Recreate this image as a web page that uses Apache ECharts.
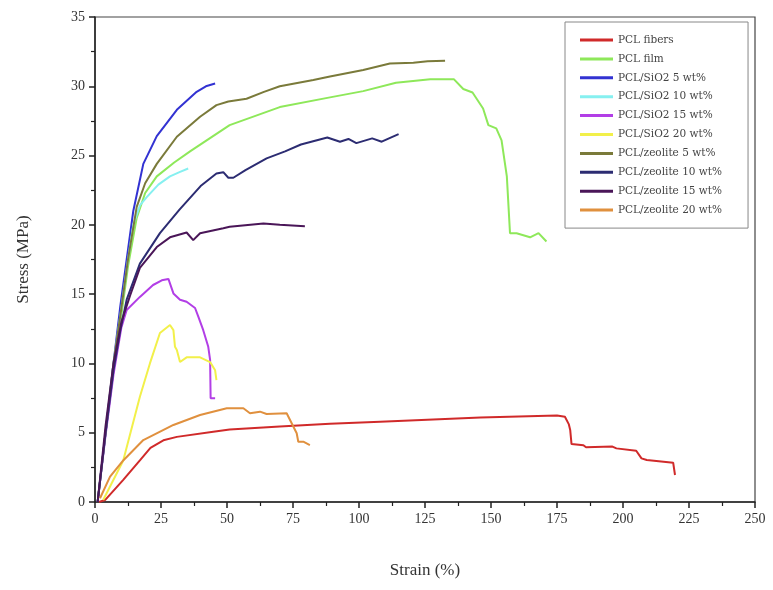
<!DOCTYPE html>
<html>
<head>
<meta charset="utf-8">
<script src="https://cdn.jsdelivr.net/npm/echarts@6/dist/echarts.min.js"></script>
<style>html,body{margin:0;padding:0;background:#fff}#c{width:773px;height:590px}</style>
</head>
<body>
<div id="c"></div>
<script>
const seriesNames = ['PCL fibers','PCL film','PCL/SiO2 5 wt%','PCL/SiO2 10 wt%','PCL/SiO2 15 wt%','PCL/SiO2 20 wt%','PCL/zeolite 5 wt%','PCL/zeolite 10 wt%','PCL/zeolite 15 wt%','PCL/zeolite 20 wt%'];
const xTicks = [0,25,50,75,100,125,150,175,200,225,250];
const yTicks = [0,5,10,15,20,25,30,35];

const pclFibers = [[1.5,0],[3.8,0.14],[10.7,1.6],[17,3.0],[21,3.9],[25.9,4.45],[31,4.7],[44.8,5.07],[51,5.24],[70,5.45],[89,5.65],[108,5.8],[146,6.1],[175,6.25],[178,6.15],[179.5,5.6],[180,5.2],[180.5,4.18],[185,4.1],[186,3.95],[196,4.0],[197.5,3.87],[205,3.7],[207,3.15],[209,3.03],[219,2.84],[219.7,1.95]];
const pclFilm = [[1,0],[4,5],[7,9.5],[10,13.5],[12.5,17],[15.8,20.5],[19,22.3],[23.4,23.5],[30,24.5],[36,25.3],[51,27.2],[70,28.5],[89,29.2],[101.6,29.65],[114,30.25],[127,30.5],[136,30.5],[139.5,29.8],[143,29.55],[147,28.4],[149,27.2],[152,26.96],[154,26.1],[156,23.5],[157.2,19.4],[159.7,19.4],[164.8,19.1],[168,19.4],[171,18.8]];
const sio2_5 = [[1,0],[4,5],[7,10],[9.5,14],[12,17.5],[14.5,21],[18.3,24.4],[23.4,26.4],[31,28.3],[38.5,29.6],[42,30.0],[45.5,30.2]];
const sio2_10 = [[1,0],[4,5],[7,10],[10,14],[12.5,17.5],[14.5,20],[17,21.4],[19.6,22.0],[24,22.9],[28.4,23.5],[32,23.8],[35.3,24.07]];
const sio2_15 = [[1,0],[4,4.8],[7,9.2],[10,12.6],[12,13.85],[17,14.8],[22,15.66],[25.3,16.0],[27.8,16.1],[29.7,15.05],[32.2,14.6],[34.7,14.45],[37.9,14.0],[39.1,13.4],[41,12.4],[42.9,11.2],[43.6,10.25],[43.8,7.48],[45.5,7.48]];
const sio2_20 = [[3.1,0.14],[10.7,3.0],[17,7.6],[20.8,10.0],[24.6,12.2],[28.4,12.77],[29.7,12.4],[30.3,11.2],[31,10.97],[32.2,10.1],[34.7,10.44],[39.8,10.44],[43.6,10.1],[45.5,9.5],[46,8.8]];
const zeo_5 = [[1,0],[4,5],[7,10],[10,14],[12.5,17.5],[15.8,21.3],[19,23],[23.4,24.4],[31,26.36],[39.8,27.8],[46,28.64],[50.5,28.9],[57.4,29.1],[64,29.6],[70,30.0],[82.7,30.45],[89,30.7],[101.6,31.17],[111.7,31.65],[120.6,31.7],[126,31.8],[132.6,31.84]];
const zeo_10 = [[1,0],[4,5],[7,9.5],[9.5,12.3],[12,14.6],[17,17.2],[24.6,19.4],[32,21.1],[40,22.8],[46,23.7],[48.6,23.8],[50.5,23.4],[52.4,23.4],[57,23.95],[65,24.8],[72,25.3],[78,25.8],[88,26.3],[92.8,26.0],[96,26.2],[99,25.9],[105,26.24],[108.6,26.0],[112,26.3],[115,26.55]];
const zeo_15 = [[1,0],[4,5.5],[7,10],[10,13],[13.3,14.9],[17,16.9],[23.4,18.4],[28.4,19.1],[34.7,19.45],[37.2,18.9],[39.8,19.4],[48.6,19.75],[51,19.86],[63.8,20.1],[70,20.0],[79.5,19.9]];
const zeo_20 = [[1.9,0.27],[5.7,1.83],[10.7,3.0],[18.3,4.47],[29.7,5.56],[39.8,6.28],[49.9,6.76],[56.2,6.76],[58.7,6.4],[62.5,6.52],[65,6.35],[72.6,6.4],[74.5,5.68],[76.4,4.96],[77,4.35],[78.9,4.35],[81.4,4.11]];

const allData = [pclFibers,pclFilm,sio2_5,sio2_10,sio2_15,sio2_20,zeo_5,zeo_10,zeo_15,zeo_20];
const colors = ['#d02a2a','#8ee85a','#3232d2','#86f0f0','#b23ee6','#f2f04a','#7a7a3a','#2c2c72','#4a1658','#e0903e'];

const font = '"Liberation Serif", "DejaVu Serif", serif';
const chart = echarts.init(document.getElementById('c'));
chart.setOption({
  animation: false,
  backgroundColor: '#fff',
  grid: {left: 95, top: 17, right: 18, bottom: 88, show: true, borderColor: '#444', borderWidth: 1.2},
  legend: {
    orient: 'vertical', left: 565, top: 22,
    padding: [11, 26, 11, 15],
    itemGap: 4.9, itemWidth: 33, itemHeight: 3,
    icon: 'rect',
    borderColor: '#888', borderWidth: 1,
    textStyle: {fontFamily: '"DejaVu Serif", serif', fontSize: 10.5, color: '#444', lineHeight: 14},
    data: seriesNames
  },
  xAxis: {
    type: 'value', min: 0, max: 250, interval: 25,
    name: 'Strain (%)', nameLocation: 'middle', nameGap: 60,
    nameTextStyle: {fontFamily: font, fontSize: 17, color: '#333'},
    axisLine: {show: true, lineStyle: {color: '#222', width: 1.5}},
    axisTick: {show: true, inside: false, length: 6, lineStyle: {color: '#222', width: 1.5}},
    minorTick: {show: true, splitNumber: 2, length: 4, lineStyle: {color: '#222', width: 1.2}},
    axisLabel: {fontFamily: font, fontSize: 14, color: '#333', margin: 10},
    splitLine: {show: false}
  },
  yAxis: {
    type: 'value', min: 0, max: 35, interval: 5,
    name: 'Stress (MPa)', nameLocation: 'middle', nameGap: 63,
    nameTextStyle: {fontFamily: font, fontSize: 17, color: '#333'},
    axisLine: {show: true, lineStyle: {color: '#222', width: 1.5}},
    axisTick: {show: true, inside: false, length: 6, lineStyle: {color: '#222', width: 1.5}},
    minorTick: {show: true, splitNumber: 2, length: 4, lineStyle: {color: '#222', width: 1.2}},
    axisLabel: {fontFamily: font, fontSize: 14, color: '#333', margin: 10},
    splitLine: {show: false}
  },
  series: allData.map((d, i) => ({
    name: seriesNames[i], type: 'line', data: d,
    symbol: 'none', smooth: false,
    color: colors[i],
    lineStyle: {color: colors[i], width: 2}
  }))
});
</script>
</body>
</html>
